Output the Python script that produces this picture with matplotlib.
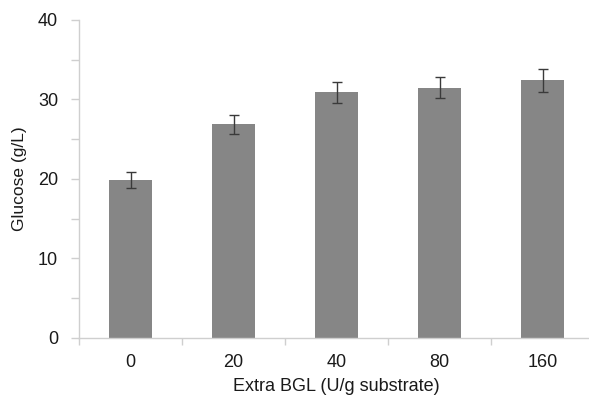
import matplotlib
matplotlib.use("Agg")
import matplotlib.pyplot as plt
from matplotlib.ticker import MultipleLocator, FixedLocator
import numpy as np

plt.rcParams['font.family'] = ['Liberation Sans', 'DejaVu Sans']

categories = ["0", "20", "40", "80", "160"]
glucose = [19.8, 26.9, 30.9, 31.5, 32.4]
glucose_err = [1.0, 1.2, 1.3, 1.3, 1.45]

fig = plt.figure(figsize=(5.89, 3.96), dpi=100)
W, H = 589, 396
left, right, top, bottom = 79, 594, 20, 337.7
ax = fig.add_axes([left / W, (H - bottom) / H, (right - left) / W, (bottom - top) / H])

x = np.arange(len(categories))
ax.bar(x, glucose, width=0.41, color="#868686", zorder=2)
ax.errorbar(x, glucose, yerr=glucose_err, fmt="none", ecolor="#3a3a3a",
            elinewidth=1.0, capsize=3.5, capthick=1.0, zorder=3)

ax.set_xlim(-0.5, len(categories) - 0.5)
ax.set_ylim(0, 40)
ax.yaxis.set_major_locator(MultipleLocator(10))
ax.yaxis.set_minor_locator(MultipleLocator(5))
ax.set_xticks(x)
ax.set_xticklabels(categories)
ax.xaxis.set_minor_locator(FixedLocator(np.arange(-0.5, len(categories), 1.0)))

spine_c = "#cfcfcf"
for s in ["top", "right"]:
    ax.spines[s].set_visible(False)
for s in ["left", "bottom"]:
    ax.spines[s].set_color(spine_c)
    ax.spines[s].set_linewidth(1.0)

txt_c = "#1a1a1a"
ax.tick_params(axis="x", which="major", length=0, labelsize=13, pad=12, labelcolor=txt_c)
ax.tick_params(axis="x", which="minor", length=5, color=spine_c, width=1.0)
ax.tick_params(axis="y", which="both", length=6, color=spine_c, width=1.0,
               labelsize=13, pad=9, labelcolor=txt_c)

ax.set_xlabel("Extra BGL (U/g substrate)", fontsize=13, color=txt_c, labelpad=5)
ax.set_ylabel("Glucose (g/L)", fontsize=12.5, color=txt_c, labelpad=8)

fig.savefig("out.png", dpi=100)
